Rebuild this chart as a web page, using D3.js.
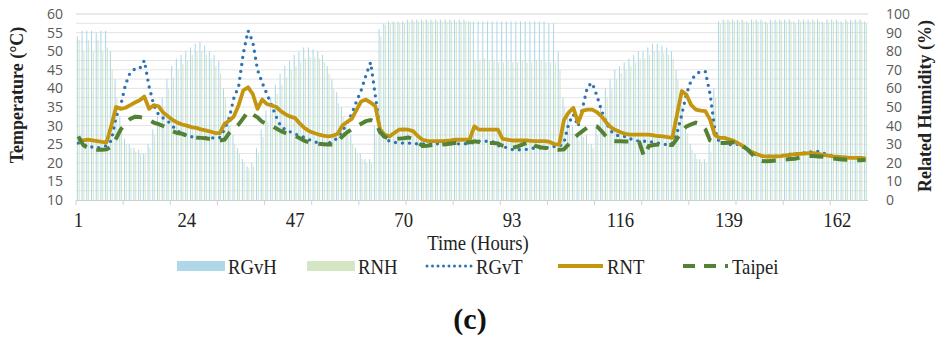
<!DOCTYPE html>
<html><head><meta charset="utf-8">
<script src="https://cdn.jsdelivr.net/npm/d3@7"></script>
<style>
body{margin:0;background:#fff;}
svg{display:block;}
</style></head>
<body><div id="chart"></div>
<script>
// hourly categories 1..168
const hours = d3.range(1, 169);
const hourLabels = [1, 24, 47, 70, 93, 116, 139, 162];
const tempTicks = [10, 15, 20, 25, 30, 35, 40, 45, 50, 55, 60];
const humTicks = [0, 10, 20, 30, 40, 50, 60, 70, 80, 90, 100];

// humidity (%) – bars
const rgvH = [
  88,91,91,91,90,91,91,80,65,45, 33,30,28,27,25,30,38,45,55,65,
  72,76,78,80,82,84,85,83,80,78, 75,60,45,35,28,22,18,20,28,38,
  48,55,62,68,72,75,78,80,82,82, 81,80,78,72,65,58,50,42,35,28,
  25,22,22,40,92,95,96,96,96,96, 97,97,97,97,97,97,97,97,97,97,
  97,97,97,96,96,96,96,96,96,96, 96,96,96,96,96,96,96,96,96,96,
  95,95,80,55,45,40,35,38,35,30, 40,50,60,65,70,72,74,76,78,80,
  80,82,84,84,83,82,80,70,55,40, 30,25,22,22,30,60,96,97,97,97,
  97,97,96,97,97,97,96,97,97,97, 97,97,96,97,97,97,97,97,96,97,
  97,97,96,97,97,97,97,96
];
const rnH = [
  86,80,86,80,86,80,82,70,55,40, 30,28,26,25,25,28,35,42,50,60,
  66,70,73,75,78,80,80,78,76,72, 68,55,40,30,25,20,17,18,25,34,
  42,50,57,62,66,70,72,74,76,77, 77,76,74,68,60,52,45,38,30,25,
  22,20,20,35,88,94,95,95,95,95, 96,96,96,96,96,96,96,96,96,96,
  96,96,96,96,75,75,76,75,75,74, 74,75,74,74,75,74,74,75,75,74,
  74,74,70,50,40,36,32,34,30,28, 35,45,55,60,65,68,70,72,74,76,
  76,78,80,80,79,78,76,65,50,36, 27,22,20,20,26,55,95,96,96,96,
  96,96,95,96,96,96,95,96,96,96, 96,96,95,96,96,96,96,96,95,96,
  96,96,95,96,96,96,96,95
];

// temperature (°C) – lines
const rgvT = [
  25.3,24.9,24.5,24.2,24.0,24.2,24.6,26.0,32.3,35.5, 41.0,44.3,45.2,45.3,47.5,40.5,35.5,33.0,32.0,31.2,
  29.8,28.7,27.8,27.3,27.0,26.8,26.7,26.7,26.7,26.7, 26.8,29.0,32.0,37.5,40.5,49.5,55.5,52.5,45.0,41.5,
  38.5,35.5,32.3,29.7,28.8,28.3,27.7,27.3,26.8,26.2, 25.8,25.2,25.0,25.2,25.8,26.7,28.5,30.7,33.2,36.5,
  39.5,43.5,47.0,38.0,28.5,26.5,25.8,25.5,25.3,25.3, 25.3,25.2,25.1,25.1,25.1,25.1,25.1,25.1,25.1,25.1,
  25.1,25.1,25.1,25.2,25.5,25.8,25.8,25.8,25.6,24.6, 24.4,24.0,23.6,23.5,23.5,23.6,23.8,24.0,24.0,24.0,
  24.2,24.4,24.4,25.3,30.5,33.0,29.8,35.0,40.5,41.5, 38.0,34.0,30.7,28.5,27.5,27.1,27.1,26.5,26.1,25.8,
  25.8,25.8,25.5,25.3,25.0,24.9,25.3,28.0,33.0,38.5, 42.2,43.8,44.6,44.5,38.5,29.0,25.3,25.3,24.9,25.0,
  25.0,24.2,23.3,22.6,22.0,21.8,21.8,21.8,21.8,21.9, 22.1,22.3,22.4,22.5,22.7,22.9,23.0,23.1,22.6,22.2,
  21.9,21.7,21.6,21.5,21.4,21.4,21.3,21.3
];
const rnT = [
  26.0,26.0,26.2,26.0,25.8,25.6,25.5,30.0,35.0,34.5, 34.8,35.5,36.2,36.8,37.8,34.5,35.5,35.2,33.5,32.5,
  31.5,30.8,30.3,30.0,29.6,29.4,29.0,28.7,28.4,28.0, 28.0,30.5,31.3,32.5,35.5,39.5,40.3,38.5,34.5,37.0,
  35.8,35.4,35.0,33.8,33.0,32.4,32.0,30.5,29.3,28.5, 28.0,27.6,27.3,27.1,27.3,27.8,30.0,31.0,31.8,34.2,
  36.5,37.0,36.2,35.2,29.0,27.5,27.1,28.0,28.9,29.0, 28.9,28.5,27.2,26.2,25.9,25.8,25.8,25.8,25.9,26.0,
  26.2,26.2,26.2,26.2,29.8,28.9,28.9,28.9,28.9,28.9, 26.4,26.2,26.0,26.0,26.0,26.0,25.9,25.8,25.8,25.8,
  25.6,25.0,24.9,31.5,33.5,34.8,30.8,34.0,34.3,34.3, 33.6,32.5,30.8,29.5,28.8,28.2,27.8,27.6,27.6,27.6,
  27.6,27.6,27.4,27.2,27.1,26.9,26.7,33.0,39.3,38.3, 35.5,34.3,34.0,33.9,31.6,27.5,26.7,26.7,26.3,25.9,
  25.2,24.5,23.5,22.8,22.3,21.8,21.7,21.7,21.7,21.8, 22.0,22.1,22.3,22.4,22.5,22.6,22.6,22.4,22.1,21.9,
  21.7,21.6,21.5,21.4,21.3,21.3,21.3,21.2
];
const taipei = [
  27.1,24.8,24.0,23.7,23.5,23.5,23.6,24.4,26.5,29.0, 30.5,31.8,32.4,32.3,32.0,31.5,30.8,30.4,29.9,29.3,
  28.5,28.0,27.8,27.3,27.0,26.8,26.7,26.6,26.4,26.2, 26.0,26.2,28.0,29.2,30.3,32.0,33.8,33.0,32.2,31.0,
  30.5,29.9,29.2,28.5,28.0,27.6,27.2,26.6,25.9,25.5, 25.3,25.1,25.0,24.9,24.9,25.8,27.1,28.2,29.0,29.7,
  30.5,31.2,31.5,31.0,28.2,27.0,26.5,26.4,26.5,26.6, 26.8,26.5,25.5,24.5,24.6,24.8,24.9,24.9,25.0,25.2,
  25.3,25.3,25.3,25.5,25.8,25.6,25.4,25.3,25.3,25.2, 24.6,24.2,24.0,24.3,24.8,25.3,25.8,24.5,24.2,24.0,
  24.0,23.6,23.5,23.6,25.0,26.5,27.6,28.6,29.5,30.0, 29.8,28.5,27.0,26.0,25.8,25.8,25.7,25.7,25.6,25.5,
  21.7,24.5,24.8,24.9,24.9,24.8,24.8,26.5,28.5,29.8, 30.3,30.8,30.5,29.0,26.0,25.5,25.3,25.3,25.4,25.5,
  25.5,24.5,23.5,22.2,21.0,20.5,20.4,20.5,20.6,20.8, 20.9,21.0,21.1,21.4,21.6,21.8,21.8,21.7,21.6,21.4,
  21.2,21.0,20.9,20.8,20.8,20.7,20.7,20.8
];

const C = {gvH:"#aed7e8", nH:"#d4e6c4", gvT:"#2e74b5", nT:"#c4960f", tp:"#548235"};
const SERIF = "'Liberation Serif','Times New Roman',serif";

const W = 943, H = 337;
const svg = d3.select("#chart").append("svg").attr("width", W).attr("height", H)
  .style("font-family", SERIF);

const x = d3.scaleBand().domain(hours).range([76, 868]).padding(0);
const bw = x.bandwidth();
const yT = d3.scaleLinear().domain([10, 60]).range([200, 14]);
const yH = d3.scaleLinear().domain([0, 100]).range([200, 14]);

// gridlines every 2.5 °C
svg.append("g").selectAll("line").data(d3.range(12.5, 60.1, 2.5)).join("line")
  .attr("x1", 76).attr("x2", 868).attr("y1", d => yT(d)).attr("y2", d => yT(d))
  .attr("stroke", d => d === 60 ? "#d4d4d4" : "#e4e4e4").attr("stroke-width", 1);

// humidity bars (thin)
const bars = svg.append("g");
bars.selectAll("rect.gv").data(rgvH).join("rect").attr("class", "gv")
  .attr("x", (d, i) => x(hours[i]) + bw * 0.18).attr("width", bw * 0.22)
  .attr("y", d => yH(d)).attr("height", d => yH(0) - yH(d)).attr("fill", C.gvH);
bars.selectAll("rect.n").data(rnH).join("rect").attr("class", "n")
  .attr("x", (d, i) => x(hours[i]) + bw * 0.56).attr("width", bw * 0.22)
  .attr("y", d => yH(d)).attr("height", d => yH(0) - yH(d)).attr("fill", C.nH);

// x axis line + ticks
svg.append("line").attr("x1", 76).attr("x2", 868).attr("y1", 200.5).attr("y2", 200.5)
  .attr("stroke", "#d0d0d0");
svg.append("g").selectAll("line").data(hours.filter(h => h % 10 === 1)).join("line")
  .attr("x1", d => x(d)).attr("x2", d => x(d)).attr("y1", 200).attr("y2", 205)
  .attr("stroke", "#d0d0d0");

// temperature lines
const line = d3.line().x((d, i) => x(hours[i]) + bw / 2).y(d => yT(d));
svg.append("path").datum(rgvT).attr("d", line).attr("fill", "none")
  .attr("stroke", C.gvT).attr("stroke-width", 3.4).attr("stroke-linecap", "round")
  .attr("stroke-dasharray", "0 7");
svg.append("path").datum(rnT).attr("d", line).attr("fill", "none")
  .attr("stroke", C.nT).attr("stroke-width", 3.8).attr("stroke-linejoin", "round");
svg.append("path").datum(taipei).attr("d", line).attr("fill", "none")
  .attr("stroke", C.tp).attr("stroke-width", 4).attr("stroke-dasharray", "14 10");

// axes labels
const left = svg.append("g").attr("transform", "translate(63,0)")
  .call(d3.axisLeft(yT).tickValues(tempTicks).tickSize(0).tickPadding(0));
const right = svg.append("g").attr("transform", "translate(886,0)")
  .call(d3.axisRight(yH).tickValues(humTicks).tickSize(0).tickPadding(0));
[left, right].forEach(g => {
  g.select(".domain").remove();
  g.selectAll("text").attr("font-family", "'Open Sans',sans-serif").attr("font-size", 14)
    .attr("fill", "#595959");
});
const bottom = svg.append("g").attr("transform", "translate(0,211)")
  .call(d3.axisBottom(x).tickValues(hourLabels).tickSize(0).tickPadding(0));
bottom.select(".domain").remove();
bottom.selectAll("text").attr("font-family", SERIF).attr("font-size", 22)
  .attr("transform", "scale(0.85,1)").attr("fill", "#222");

// titles
svg.append("text").attr("transform", "translate(23,95) rotate(-90)").attr("text-anchor", "middle")
  .attr("font-family", SERIF).attr("font-weight", "bold").attr("font-size", 18).attr("fill", "#222")
  .text("Temperature (°C)");
svg.append("text").attr("transform", "translate(931,106) rotate(-90)").attr("text-anchor", "middle")
  .attr("font-family", SERIF).attr("font-weight", "bold").attr("font-size", 18).attr("fill", "#222")
  .text("Related Humidity (%)");
svg.append("text").attr("transform", "translate(478,250) scale(0.85,1)").attr("text-anchor", "middle")
  .attr("font-family", SERIF).attr("font-size", 22).attr("fill", "#222").text("Time (Hours)");

// legend
const legend = [
  {name: "RGvH", type: "bar", c: C.gvH, x: 177},
  {name: "RNH", type: "bar", c: C.nH, x: 307},
  {name: "RGvT", type: "dot", c: C.gvT, x: 425},
  {name: "RNT", type: "line", c: C.nT, x: 556},
  {name: "Taipei", type: "dash", c: C.tp, x: 681}
];
const lg = svg.append("g").attr("transform", "translate(0,266)");
legend.forEach(d => {
  if (d.type === "bar") {
    lg.append("rect").attr("x", d.x).attr("y", -5).attr("width", 48).attr("height", 10).attr("fill", d.c);
  } else {
    const l = lg.append("line").attr("x1", d.x + 2).attr("x2", d.x + 47).attr("y1", 0).attr("y2", 0)
      .attr("stroke", d.c);
    if (d.type === "dot") l.attr("stroke-width", 3).attr("stroke-linecap", "round").attr("stroke-dasharray", "0 5.5");
    if (d.type === "line") l.attr("stroke-width", 3.8);
    if (d.type === "dash") l.attr("stroke-width", 4).attr("stroke-dasharray", "12 9");
  }
  lg.append("text").attr("transform", `translate(${d.x + 51},8) scale(0.85,1)`)
    .attr("font-family", SERIF).attr("font-size", 22).attr("fill", "#222").text(d.name);
});

svg.append("text").attr("x", 470).attr("y", 329).attr("text-anchor", "middle")
  .attr("font-family", SERIF).attr("font-size", 30).attr("font-weight", "bold").attr("fill", "#111")
  .text("(c)");
</script>
</body></html>
